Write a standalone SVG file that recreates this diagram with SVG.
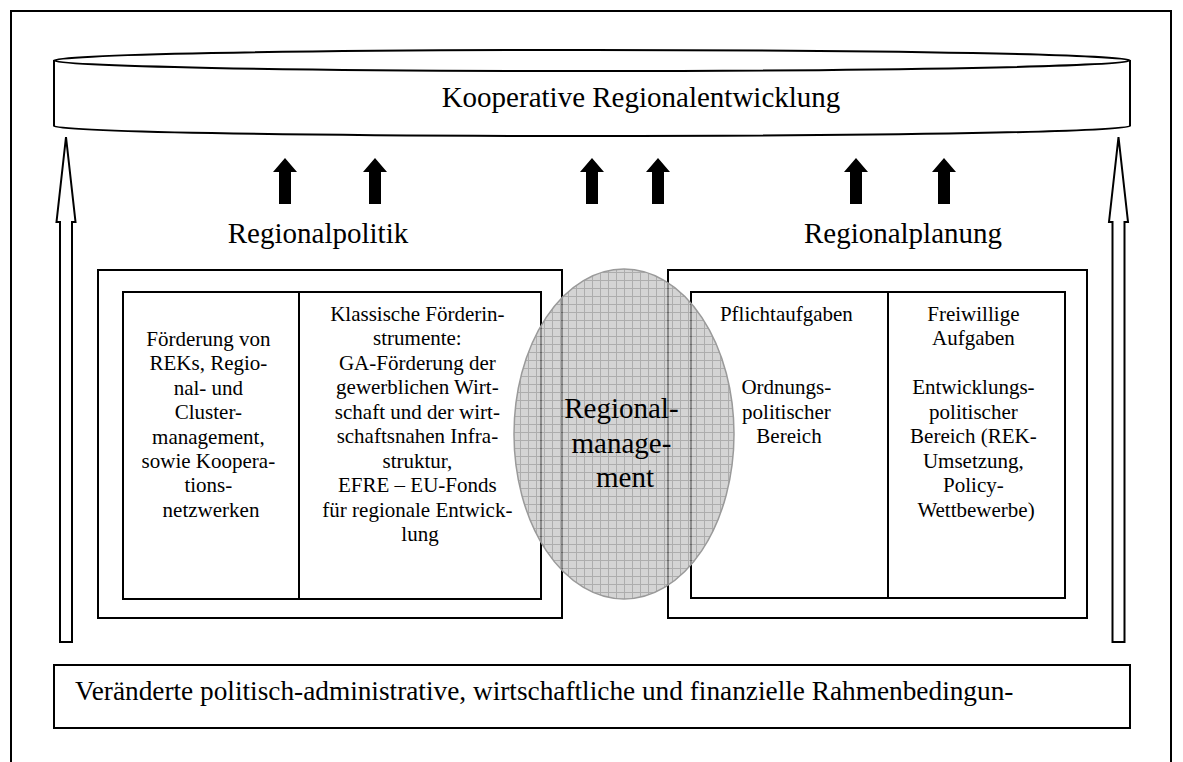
<svg xmlns="http://www.w3.org/2000/svg" width="1183" height="762" viewBox="0 0 1183 762">
  <style>
    .ln { fill: none; stroke: #000; stroke-width: 2; }
    .box { fill: #fff; stroke: #000; stroke-width: 2; }
    .t { font-family: "Liberation Serif", "Times New Roman", serif; fill: #000; }
    .big { font-size: 29px; }
    .mid { font-size: 21px; text-anchor: middle; }
    .c { text-anchor: middle; }
    .up { fill: #000; }
    .hollow { fill: #fff; stroke: #000; stroke-width: 2; stroke-linejoin: miter; }
  </style>
  <defs>
    <pattern id="grid" width="8" height="8" patternUnits="userSpaceOnUse">
      <rect width="8" height="8" fill="#c4c4c4"/>
      <path d="M0 0.5H8M0.5 0V8" stroke="#8e8e8e" stroke-width="1"/>
    </pattern>
    <path id="smallUp" d="M0 0 L12 14 L6 14 L6 46 L-6 46 L-6 14 L-12 14 Z"/>
  </defs>

  <rect width="1183" height="762" fill="#fff"/>

  <!-- page frame, open at the bottom -->
  <path class="ln" d="M11 762 V11 H1171 V762"/>

  <!-- top: cooperative regional development (horizontal can) -->
  <g id="kooperative">
    <path class="box" d="M54 60 V126 A538 10 0 0 0 1130 126 V60"/>
    <ellipse class="box" cx="592" cy="60.5" rx="538" ry="10.5"/>
    <text class="t big c" x="641" y="107">Kooperative Regionalentwicklung</text>
  </g>

  <!-- arrows and upward links -->
  <g id="connectors">
    <use href="#smallUp" class="up" x="285" y="158"/>
    <use href="#smallUp" class="up" x="375" y="158"/>
    <use href="#smallUp" class="up" x="592" y="158"/>
    <use href="#smallUp" class="up" x="658" y="158"/>
    <use href="#smallUp" class="up" x="856" y="158"/>
    <use href="#smallUp" class="up" x="944" y="158"/>
    <path class="hollow" d="M66 137 L75.5 222 L72 222 L72 642 L60 642 L60 222 L56.5 222 Z"/>
    <path class="hollow" d="M1118.5 137 L1128 222 L1124.5 222 L1124.5 642 L1112.5 642 L1112.5 222 L1109 222 Z"/>
  </g>

  <text class="t big c" x="318" y="243">Regionalpolitik</text>
  <text class="t big c" x="903" y="243">Regionalplanung</text>

  <!-- regional policy -->
  <g id="regionalpolitik">
    <rect class="box" x="98" y="270" width="464" height="348"/>
    <rect class="box" x="123" y="292" width="418" height="307"/>
    <line class="ln" x1="299" y1="292" x2="299" y2="599"/>
    <text class="t mid">
      <tspan x="211" y="346">Förderung von</tspan>
      <tspan x="211" y="370">REKs, Regio-</tspan>
      <tspan x="211" y="395">nal- und</tspan>
      <tspan x="211" y="419">Cluster-</tspan>
      <tspan x="211" y="444">management,</tspan>
      <tspan x="211" y="468">sowie Koopera-</tspan>
      <tspan x="211" y="492">tions-</tspan>
      <tspan x="211" y="517">netzwerken</tspan>
    </text>
    <text class="t mid">
      <tspan x="420" y="321">Klassische Förderin-</tspan>
      <tspan x="420" y="345">strumente:</tspan>
      <tspan x="420" y="370">GA-Förderung der</tspan>
      <tspan x="420" y="394">gewerblichen Wirt-</tspan>
      <tspan x="420" y="419">schaft und der wirt-</tspan>
      <tspan x="420" y="443">schaftsnahen Infra-</tspan>
      <tspan x="420" y="468">struktur,</tspan>
      <tspan x="420" y="492">EFRE – EU-Fonds</tspan>
      <tspan x="420" y="517">für regionale Entwick-</tspan>
      <tspan x="420" y="541">lung</tspan>
    </text>
  </g>

  <!-- regional planning -->
  <g id="regionalplanung">
    <rect class="box" x="668" y="270" width="419" height="348"/>
    <rect class="box" x="691" y="292" width="374" height="306"/>
    <line class="ln" x1="888" y1="292" x2="888" y2="598"/>
    <text class="t mid">
      <tspan x="789" y="321">Pflichtaufgaben</tspan>
      <tspan x="789" y="394">Ordnungs-</tspan>
      <tspan x="789" y="419">politischer</tspan>
      <tspan x="789" y="443">Bereich</tspan>
    </text>
    <text class="t mid">
      <tspan x="976" y="321">Freiwillige</tspan>
      <tspan x="976" y="345">Aufgaben</tspan>
      <tspan x="976" y="394">Entwicklungs-</tspan>
      <tspan x="976" y="419">politischer</tspan>
      <tspan x="976" y="443">Bereich (REK-</tspan>
      <tspan x="976" y="468">Umsetzung,</tspan>
      <tspan x="976" y="492">Policy-</tspan>
      <tspan x="976" y="517">Wettbewerbe)</tspan>
    </text>
  </g>

  <!-- regional management overlaps both fields -->
  <g id="regionalmanagement">
    <ellipse cx="624" cy="434" rx="110" ry="165" fill="url(#grid)" fill-opacity="0.72" stroke="#9a9a9a" stroke-width="1.5"/>
    <text class="t c" font-size="29">
      <tspan x="625" y="418">Regional-</tspan>
      <tspan x="625" y="453">manage-</tspan>
      <tspan x="625" y="487">ment</tspan>
    </text>
  </g>

  <!-- framework conditions -->
  <g id="rahmenbedingungen">
    <rect class="box" x="54" y="665" width="1076" height="63"/>
    <text class="t" font-size="27.3" x="75" y="700">Veränderte politisch-administrative, wirtschaftliche und finanzielle Rahmenbedingun-</text>
  </g>
</svg>
